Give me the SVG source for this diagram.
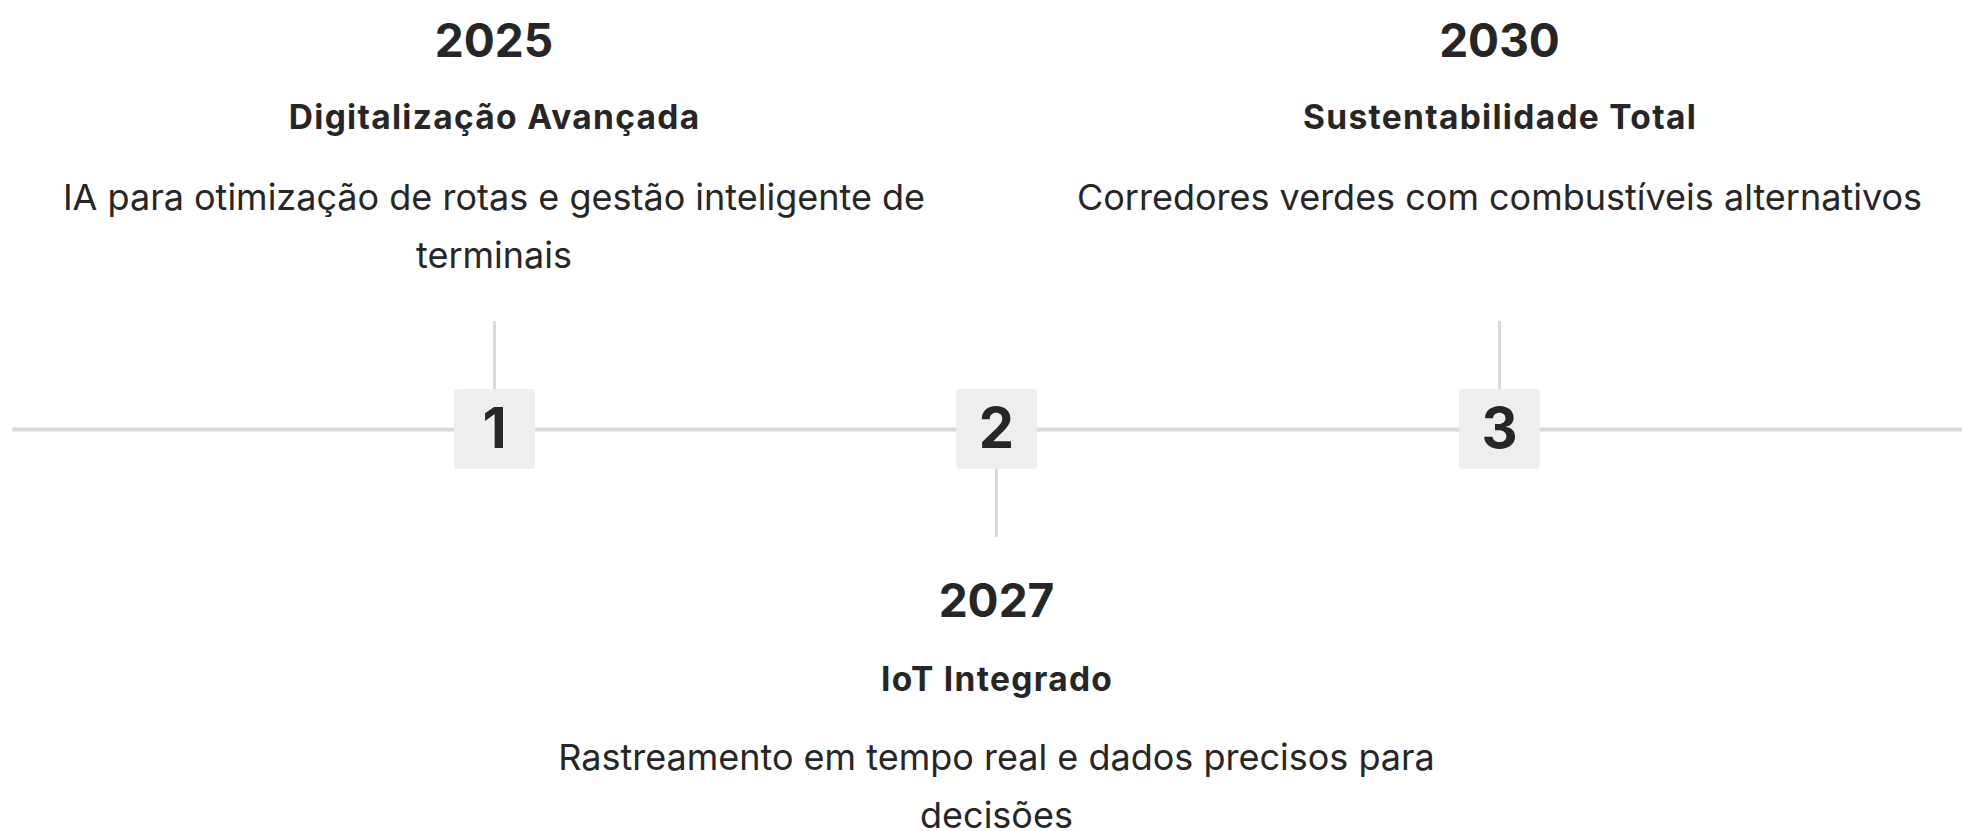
<svg xmlns="http://www.w3.org/2000/svg" width="1962" height="831" viewBox="0 0 1962 831">
<style>
.year{font-family:Inter,"Noto Sans",sans-serif;font-weight:700;font-size:46px;fill:#262626;text-anchor:middle}
.sub{font-family:Inter,"Noto Sans",sans-serif;font-weight:700;font-size:33.5px;letter-spacing:1.3px;fill:#262626;text-anchor:middle}
.body{font-family:Inter,"Noto Sans",sans-serif;font-weight:400;font-size:36px;fill:#262626;text-anchor:middle}
.num{font-family:Inter,"Noto Sans",sans-serif;font-weight:700;font-size:56px;fill:#262626;text-anchor:middle}
.box{fill:#f0eded}
.tl{stroke:#dad8d8;stroke-width:4;stroke-linecap:round;fill:none}
.tick{stroke:#dad8d8;stroke-width:3;fill:none}
</style>
<rect width="1962" height="831" fill="#ffffff"/>
<g id="connectors">
<line class="tl" x1="14" y1="429.5" x2="1964" y2="429.5"/>
<line class="tick" x1="494.5" y1="321" x2="494.5" y2="390"/>
<line class="tick" x1="996.5" y1="468" x2="996.5" y2="537"/>
<line class="tick" x1="1499.5" y1="321" x2="1499.5" y2="390"/>
</g>
<g id="node1">
<rect class="box" x="454" y="389" width="81" height="80" rx="4"/>
<text class="num" x="494.5" y="448">1</text>
<text class="year" x="494" y="56.5">2025</text>
<text class="sub" x="494.6" y="129.3">Digitalização Avançada</text>
<text class="body" x="494" y="210">IA para otimização de rotas e gestão inteligente de</text>
<text class="body" x="494" y="267.6">terminais</text>
</g>
<g id="node2">
<rect class="box" x="956" y="389" width="81" height="80" rx="4"/>
<text class="num" x="996.5" y="448">2</text>
<text class="year" x="996.5" y="617">2027</text>
<text class="sub" x="997.1" y="690.5">IoT Integrado</text>
<text class="body" x="996.5" y="770">Rastreamento em tempo real e dados precisos para</text>
<text class="body" x="996.5" y="827.6">decisões</text>
</g>
<g id="node3">
<rect class="box" x="1459" y="389" width="81" height="80" rx="4"/>
<text class="num" x="1499.5" y="448">3</text>
<text class="year" x="1499.5" y="56.5">2030</text>
<text class="sub" x="1500.1" y="129.3">Sustentabilidade Total</text>
<text class="body" x="1499.5" y="210">Corredores verdes com combustíveis alternativos</text>
</g>
</svg>
